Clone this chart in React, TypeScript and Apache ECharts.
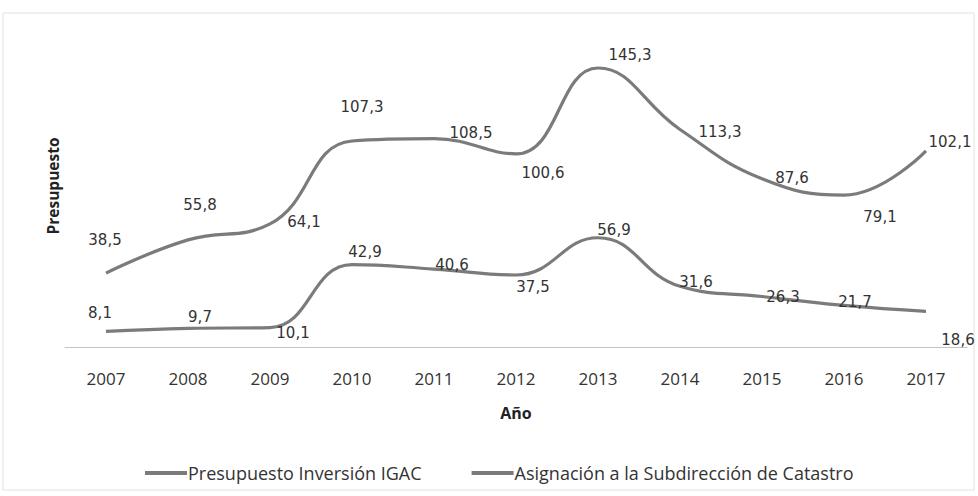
import React, { useEffect, useRef } from "react";
import * as echarts from "echarts";

const years = ["2007", "2008", "2009", "2010", "2011", "2012", "2013", "2014", "2015", "2016", "2017"];
const presupuestoIGAC = [38.5, 55.8, 64.1, 107.3, 108.5, 100.6, 145.3, 113.3, 87.6, 79.1, 102.1];
const asignacionCatastro = [8.1, 9.7, 10.1, 42.9, 40.6, 37.5, 56.9, 31.6, 26.3, 21.7, 18.6];
const seriesNames = ["Presupuesto Inversión IGAC", "Asignación a la Subdirección de Catastro"];
const xTitle = "Año";
const yTitle = "Presupuesto";

// label placement (pixel offsets from each point), separate from the data
const offsetsTop: [number, number][] = [
  [-1, -33], [12, -35], [34, -2], [10, -34], [37, -6], [27, 19], [32, -13], [40, 3], [30, -1], [36, 22], [24, -9],
];
const offsetsBottom: [number, number][] = [
  [-6, -18], [12, -11], [23, 5], [13, -13], [18, -4], [17, 12], [16, -8], [16, -4], [21, 0], [11, -3], [32, 29],
];

const LINE = "#7b7b7b";
const TXT = "#333";
const FONT = "Open Sans";

const fmt = (v: number) => v.toFixed(1).replace(".", ",");

function buildData(vals: number[], offs: [number, number][]) {
  return vals.map((v, i) => ({
    value: v,
    label: { offset: offs[i] },
  }));
}

export default function App() {
  const ref = useRef<HTMLDivElement>(null);
  useEffect(() => {
    if (!ref.current) return;
    const chart = echarts.init(ref.current, undefined, { renderer: "svg" });
    const mkSeries = (name: string, vals: number[], offs: [number, number][]) => ({
      name,
      type: "line",
      smooth: 0.45,
      data: buildData(vals, offs),
      symbol: "circle",
      symbolSize: 1,
      showSymbol: true,
      itemStyle: { color: "rgba(0,0,0,0)", borderWidth: 0 },
      lineStyle: { color: LINE, width: 3.2 },
      label: {
        show: true,
        position: "inside",
        color: TXT,
        fontFamily: "DejaVu Sans",
        fontSize: 15,
        formatter: (p: any) => fmt(p.value),
      },
    });
    chart.setOption({
      animation: false,
      backgroundColor: "#fff",
      grid: { left: 65, right: 11, top: 59, bottom: 149 },
      xAxis: {
        type: "category",
        data: years,
        boundaryGap: true,
        axisLine: { show: true, lineStyle: { color: "#c4c4c4", width: 1 } },
        axisTick: { show: false },
        axisLabel: { color: TXT, fontFamily: FONT, fontSize: 17, margin: 23 },
        name: xTitle,
        nameLocation: "middle",
        nameGap: 58,
        nameTextStyle: { color: "#222", fontFamily: FONT, fontWeight: "bold", fontSize: 16 },
      },
      yAxis: {
        type: "value",
        min: 0,
        max: 150,
        axisLine: { show: false },
        axisTick: { show: false },
        axisLabel: { show: false },
        splitLine: { show: false },
      },
      legend: {
        left: 140,
        top: 459,
        itemWidth: 42,
        itemHeight: 4,
        itemGap: 50,
        icon: "rect",
        data: seriesNames.map((n) => ({ name: n, itemStyle: { color: LINE, opacity: 1 } })),
        textStyle: { color: "#333", fontFamily: FONT, fontSize: 18, padding: [0, 0, 0, -4] },
      },
      graphic: [
        {
          type: "rect",
          shape: { x: 3, y: 13, width: 971, height: 477 },
          style: { fill: "none", stroke: "#e2e2e2", lineWidth: 1 },
          silent: true,
        },
        {
          type: "text",
          x: 53,
          y: 186,
          rotation: Math.PI / 2,
          style: {
            text: yTitle,
            fill: "#222",
            font: `bold 15.5px "${FONT}"`,
            align: "center",
            verticalAlign: "middle",
          },
          silent: true,
        },
      ],
      series: [
        mkSeries(seriesNames[0], presupuestoIGAC, offsetsTop),
        mkSeries(seriesNames[1], asignacionCatastro, offsetsBottom),
      ],
    });
    return () => chart.dispose();
  }, []);
  return (
    <div
      ref={ref}
      style={{ position: "fixed", left: 0, top: 0, width: 978, height: 496 }}
    />
  );
}
